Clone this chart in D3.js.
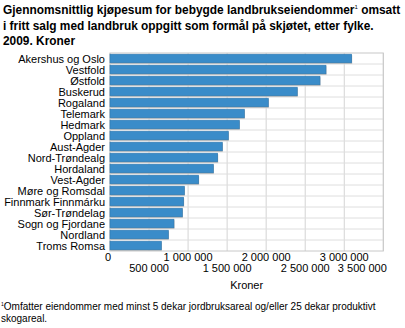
<!DOCTYPE html>
<html><head><meta charset="utf-8">
<script src="https://cdn.jsdelivr.net/npm/d3@7"></script>
<style>body{margin:0;background:#fff}svg{display:block;font-family:"Liberation Sans",Arial,sans-serif}</style>
</head><body>
<svg id="c" width="405" height="328"></svg>
<script>
const categories = ["Akershus og Oslo","Vestfold","Østfold","Buskerud","Rogaland","Telemark","Hedmark","Oppland","Aust-Agder","Nord-Trøndealg","Hordaland","Vest-Agder","Møre og Romsdal","Finnmark Finnmárku","Sør-Trøndelag","Sogn og Fjordane","Nordland","Troms Romsa"];
const values = [3095000,2766000,2689000,2398000,2027000,1720000,1656000,1515000,1438000,1379000,1323000,1135000,952000,943000,926000,819000,747000,657000];
const tickValues = [0,500000,1000000,1500000,2000000,2500000,3000000,3500000];
const tickLabels = ["0","500 000","1 000 000","1 500 000","2 000 000","2 500 000","3 000 000","3 500 000"];
const titleLines = ["Gjennomsnittlig kjøpesum for bebygde landbrukseiendommer","i fritt salg med landbruk oppgitt som formål på skjøtet, etter fylke.","2009. Kroner"];

const svg = d3.select("#c");
const L = 110, R = 383.3, T = 53, B = 251;
const x = d3.scaleLinear().domain([0,3500000]).range([L,R]);
const y = d3.scaleBand().domain(categories).range([T,B]).paddingInner(0.22).paddingOuter(0.11);

// title
const tt = svg.append("g").attr("font-weight","bold").attr("font-size",11.9).attr("fill","#000");
titleLines.forEach((t,i)=>{
  const el = tt.append("text").attr("x",3).attr("y",14+i*15.5).text(t);
  if(i===0){ el.append("tspan").attr("font-size",6).attr("dy",-5).attr("font-weight","normal").text("1");
             el.append("tspan").attr("dy",5).text(" omsatt"); }
});

// grid
const g = svg.append("g");
tickValues.forEach(v=>{
  g.append("line").attr("x1",x(v)).attr("x2",x(v)).attr("y1",T).attr("y2",B).attr("stroke","#d4d4d4").attr("stroke-width",1);
});
categories.forEach((c,i)=>{
  if(i>0){ const yy = T + i*(B-T)/categories.length;
    g.append("line").attr("x1",L).attr("x2",R).attr("y1",yy).attr("y2",yy).attr("stroke","#dedede").attr("stroke-width",1);}
});
g.append("rect").attr("x",L).attr("y",T).attr("width",R-L).attr("height",B-T).attr("fill","none").attr("stroke","#c8c8c8");

// bars
const bars = svg.append("g");
categories.forEach((c,i)=>{
  bars.append("rect").attr("x",x(0)+0.5).attr("y",y(c)+1).attr("width",x(values[i])-x(0)).attr("height",y.bandwidth()).attr("fill","#b8b8b8");
  bars.append("rect").attr("x",x(0)).attr("y",y(c)).attr("width",x(values[i])-x(0)).attr("height",y.bandwidth()).attr("fill","#3a8cc9").attr("stroke","#2e78b0").attr("stroke-width",0.6);
});

// category labels
svg.append("g").attr("font-size",11).attr("text-anchor","end").selectAll("text").data(categories).join("text")
  .attr("x",L-5).attr("y",d=>y(d)+y.bandwidth()/2+4).text(d=>d);

// x labels
const last = tickValues.length-1;
svg.append("g").attr("font-size",11).selectAll("text").data(tickValues).join("text")
  .attr("text-anchor",(d,i)=>i===last?"end":"middle")
  .attr("x",(d,i)=>i===0?x(d)-2:(i===last?x(d)+3.5:x(d)))
  .attr("y",(d,i)=>i%2===0?261:272).text((d,i)=>tickLabels[i]);

svg.append("text").attr("x",(L+R)/2).attr("y",289).attr("font-size",11).attr("text-anchor","middle").text("Kroner");

const fn = svg.append("g").attr("font-size",10);
const f1 = fn.append("text").attr("x",1).attr("y",310);
f1.append("tspan").attr("font-size",5).attr("dy",-4).text("1");
f1.append("tspan").attr("dy",4).text("Omfatter eiendommer med minst 5 dekar jordbruksareal og/eller 25 dekar produktivt");
fn.append("text").attr("x",1).attr("y",322).text("skogareal.");
</script>
</body></html>
